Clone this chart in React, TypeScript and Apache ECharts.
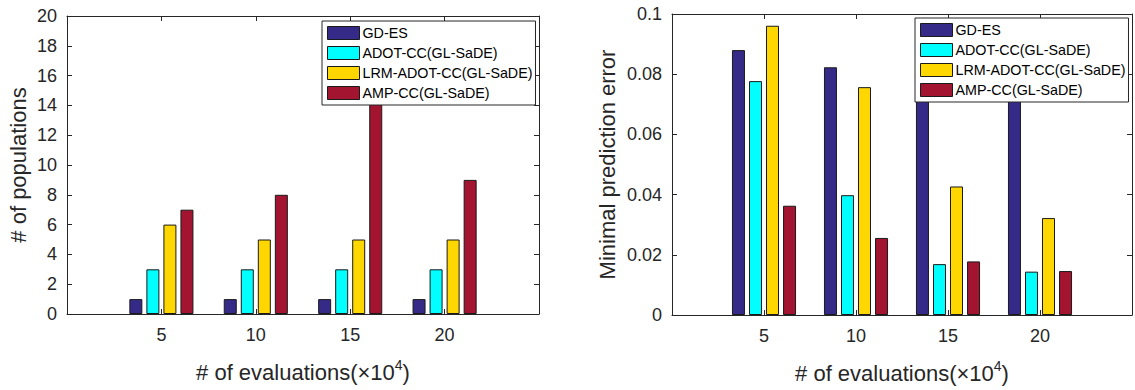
import React, { useEffect, useRef } from "react";
import * as echarts from "echarts";

const evaluations = [5, 10, 15, 20];
const seriesNames = ["GD-ES", "ADOT-CC(GL-SaDE)", "LRM-ADOT-CC(GL-SaDE)", "AMP-CC(GL-SaDE)"];
const seriesColors = ["#352A87", "#00FFFF", "#FFD700", "#A2142F"];

// Left chart: # of populations
const popGD = [1, 1, 1, 1];
const popADOT = [3, 3, 3, 3];
const popLRM = [6, 5, 5, 5];
const popAMP = [7, 8, 15, 9];

// Right chart: minimal prediction error
const errGD = [0.088, 0.0823, 0.079, 0.078];
const errADOT = [0.0777, 0.0398, 0.0169, 0.0144];
const errLRM = [0.0961, 0.0757, 0.0427, 0.0322];
const errAMP = [0.0363, 0.0256, 0.0178, 0.0146];

const popTicks = [0, 20, 2];
const errTicks = [0, 0.1, 0.02];

const FONT = "'Liberation Sans', Arial, Helvetica, sans-serif";
const AX = "#262626";

export default function App() {
  const ref = useRef<HTMLDivElement>(null);
  useEffect(() => {
    if (!ref.current) return;
    const chart = echarts.init(ref.current, null, { renderer: "svg" });
    const popData = [popGD, popADOT, popLRM, popAMP];
    const errData = [errGD, errADOT, errLRM, errAMP];

    const xName = "{a|# of evaluations(×10}{s|4}{a|)}";
    const xNameStyle = {
      rich: {
        a: { fontSize: 22, fontFamily: FONT, color: AX, lineHeight: 28 },
        s: { fontSize: 14, fontFamily: FONT, color: AX, verticalAlign: "top", lineHeight: 14 },
      },
    };

    const mkX = (gi: number, bottom: boolean) => ({
      type: "value",
      gridIndex: gi,
      position: bottom ? "bottom" : "top",
      min: 0,
      max: 25,
      interval: 5,
      name: bottom ? xName : "",
      nameLocation: "middle",
      nameGap: 44,
      nameTextStyle: xNameStyle,
      axisLine: { show: true, onZero: false, lineStyle: { color: AX, width: 1 } },
      axisTick: { show: true, inside: true, length: 5, lineStyle: { color: AX } },
      axisLabel: {
        show: bottom,
        margin: 12,
        fontSize: 18,
        fontFamily: FONT,
        color: AX,
        formatter: (v: number) => (v === 0 || v === 25 ? "" : String(v)),
      },
      splitLine: { show: false },
    });

    const mkY = (gi: number, left: boolean, ticks: number[], name: string, gap: number) => ({
      type: "value",
      gridIndex: gi,
      position: left ? "left" : "right",
      min: ticks[0],
      max: ticks[1],
      interval: ticks[2],
      name: left ? name : "",
      nameLocation: "middle",
      nameGap: gap,
      nameTextStyle: { fontSize: 22, fontFamily: FONT, color: AX },
      axisLine: { show: true, onZero: false, lineStyle: { color: AX, width: 1 } },
      axisTick: { show: true, inside: true, length: 5, lineStyle: { color: AX } },
      axisLabel: {
        show: left,
        margin: 10,
        fontSize: 18,
        fontFamily: FONT,
        color: AX,
        formatter: (v: number) => String(+v.toFixed(2)),
      },
      splitLine: { show: false },
    });

    const series: any[] = [];
    [popData, errData].forEach((dataSet, gi) => {
      dataSet.forEach((vals, si) => {
        series.push({
          type: "bar",
          name: seriesNames[si],
          xAxisIndex: gi * 2,
          yAxisIndex: gi * 2,
          barWidth: 13,
          barGap: "31%",
          itemStyle: { color: seriesColors[si], borderColor: "#1a1a1a", borderWidth: 1 },
          data: evaluations.map((e, i) => [e, vals[i]]),
        });
      });
    });

    const mkLegend = (left: number, top: number) => ({
      left,
      top,
      orient: "vertical",
      data: seriesNames,
      icon: "rect",
      itemWidth: 32,
      itemHeight: 13,
      itemGap: 6,
      padding: [5, 3, 5, 5],
      borderColor: AX,
      borderWidth: 1,
      backgroundColor: "#fff",
      selectedMode: false,
      itemStyle: { borderColor: "#1a1a1a", borderWidth: 1 },
      textStyle: {
        fontSize: 14.3,
        lineHeight: 13,
        fontFamily: FONT,
        color: "#000",
        padding: [0, 0, 0, -2],
      },
    });

    chart.setOption({
      animation: false,
      backgroundColor: "#fff",
      grid: [
        { left: 67, top: 16, width: 472, height: 298 },
        { left: 672, top: 14, width: 461, height: 301 },
      ],
      xAxis: [mkX(0, true), mkX(0, false), mkX(1, true), mkX(1, false)],
      yAxis: [
        mkY(0, true, popTicks, "# of populations", 38),
        mkY(0, false, popTicks, "", 0),
        mkY(1, true, errTicks, "Minimal prediction error", 54),
        mkY(1, false, errTicks, "", 0),
      ],
      legend: [mkLegend(322, 21), mkLegend(915, 18)],
      series,
    });
    return () => chart.dispose();
  }, []);
  return (
    <div
      ref={ref}
      style={{ position: "fixed", left: 0, top: 0, width: 1135, height: 390, background: "#fff" }}
    />
  );
}
